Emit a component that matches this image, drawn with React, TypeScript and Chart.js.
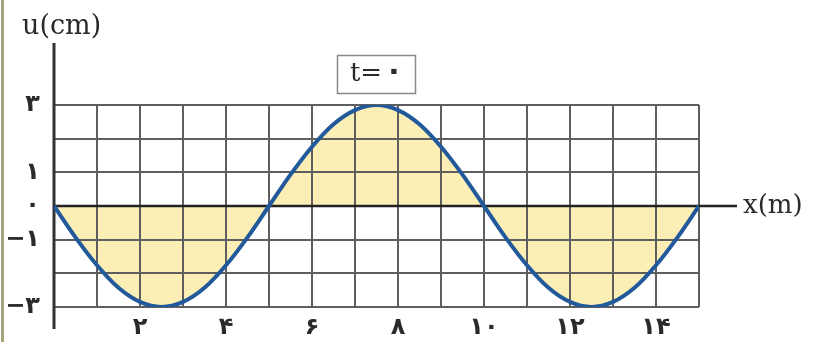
import { useEffect, useRef } from 'react';
import { Chart, registerables } from 'chart.js';

Chart.register(...registerables);

// Wave snapshot at t = 0: position along the string (m) and displacement (cm)
const positions = [
  0, 0.5, 1, 1.5, 2, 2.5, 3, 3.5, 4, 4.5, 5, 5.5, 6, 6.5, 7, 7.5,
  8, 8.5, 9, 9.5, 10, 10.5, 11, 11.5, 12, 12.5, 13, 13.5, 14, 14.5, 15,
];
const displacement = [
  0, -0.93, -1.76, -2.43, -2.85, -3, -2.85, -2.43, -1.76, -0.93, 0,
  0.93, 1.76, 2.43, 2.85, 3, 2.85, 2.43, 1.76, 0.93, 0,
  -0.93, -1.76, -2.43, -2.85, -3, -2.85, -2.43, -1.76, -0.93, 0,
];

// Labelled ticks on each axis
const xTickValues = [2, 4, 6, 8, 10, 12, 14];
const yTickValues = [3, 1, 0, -1, -3];

const faDigits = '۰۱۲۳۴۵۶۷۸۹';
const toFa = (n: number) =>
  (n < 0 ? '−' : '') + String(Math.abs(n)).replace(/\d/g, (d) => faDigits[+d]);

const GRID = '#5e5e5e';
const AXIS = '#333333';
const TEXT = '#2a2a2a';
const WAVE = '#22599b';
const FILL = '#fcefb6';

export default function App() {
  const ref = useRef<HTMLCanvasElement>(null);

  useEffect(() => {
    const canvas = ref.current;
    if (!canvas) return;

    const decor = {
      id: 'decor',
      beforeDatasetsDraw(chart: any) {
        const { ctx, scales } = chart;
        const x0 = scales.x.getPixelForValue(0);
        const y0 = scales.y.getPixelForValue(0);
        ctx.save();
        // frame line on the left edge
        ctx.fillStyle = '#a4a37c';
        ctx.fillRect(1, 0, 3, chart.height);
        // vertical u axis, running past the grid
        ctx.strokeStyle = AXIS;
        ctx.lineWidth = 3;
        ctx.beginPath();
        ctx.moveTo(x0, 43);
        ctx.lineTo(x0, 329);
        ctx.stroke();
        // horizontal x axis at u = 0
        ctx.strokeStyle = '#222';
        ctx.lineWidth = 2.5;
        ctx.beginPath();
        ctx.moveTo(x0, y0);
        ctx.lineTo(737, y0);
        ctx.stroke();
        ctx.restore();
      },
      afterDraw(chart: any) {
        const { ctx, scales } = chart;
        const y0 = scales.y.getPixelForValue(0);
        ctx.save();
        ctx.fillStyle = TEXT;
        ctx.textBaseline = 'middle';
        ctx.textAlign = 'left';
        ctx.font = '27px "DejaVu Serif"';
        ctx.fillText('u(cm)', 22, 27);
        ctx.font = '26px "DejaVu Serif"';
        ctx.fillText('x(m)', 743, y0);

        // time label box
        ctx.fillStyle = '#fff';
        ctx.fillRect(337, 55, 78, 38);
        ctx.strokeStyle = '#8a8a8a';
        ctx.lineWidth = 1.5;
        ctx.strokeRect(337.5, 55.5, 78, 38);
        ctx.fillStyle = TEXT;
        ctx.textAlign = 'center';
        ctx.font = '26px "DejaVu Serif"';
        ctx.fillText('t=', 366, 74);
        ctx.font = 'bold 30px "DejaVu Sans"';
        ctx.fillText(toFa(0), 394, 72);
        ctx.restore();
      },
    };

    const labelFont = { family: '"DejaVu Sans"', size: 24, weight: 'bold' as const };

    const chart = new Chart(canvas, {
      type: 'line',
      data: {
        datasets: [
          {
            data: positions.map((x, i) => ({ x, y: displacement[i] })),
            borderColor: WAVE,
            borderWidth: 4,
            pointRadius: 0,
            fill: 'origin',
            backgroundColor: FILL,
            cubicInterpolationMode: 'monotone',
          },
        ],
      },
      options: {
        animation: false,
        responsive: false,
        events: [],
        layout: { padding: { top: 105, right: 114, bottom: 0, left: 0 } },
        plugins: {
          legend: { display: false },
          tooltip: { enabled: false },
          filler: { drawTime: 'beforeDraw' },
        },
        scales: {
          x: {
            type: 'linear',
            min: 0,
            max: 15,
            afterFit: (s: any) => {
              s.height = 35;
            },
            border: { display: false },
            grid: { color: GRID, lineWidth: 2, drawTicks: false },
            ticks: {
              stepSize: 1,
              autoSkip: false,
              maxRotation: 0,
              padding: 6,
              color: TEXT,
              font: labelFont,
              callback: (v: any) => (xTickValues.includes(Number(v)) ? toFa(Number(v)) : ''),
            },
          },
          y: {
            type: 'linear',
            min: -3,
            max: 3,
            afterFit: (s: any) => {
              s.width = 54;
            },
            border: { display: false },
            grid: { color: GRID, lineWidth: 2, drawTicks: false },
            ticks: {
              stepSize: 1,
              autoSkip: false,
              padding: 14,
              color: TEXT,
              font: labelFont,
              callback: (v: any) => (yTickValues.includes(Number(v)) ? toFa(Number(v)) : ''),
            },
          },
        },
      },
      plugins: [decor],
    } as any);

    return () => chart.destroy();
  }, []);

  return (
    <div
      style={{
        position: 'fixed',
        left: 0,
        top: 0,
        width: 813,
        height: 342,
        background: '#fff',
      }}
    >
      <canvas ref={ref} width={813} height={342} style={{ width: 813, height: 342, display: 'block' }} />
    </div>
  );
}
